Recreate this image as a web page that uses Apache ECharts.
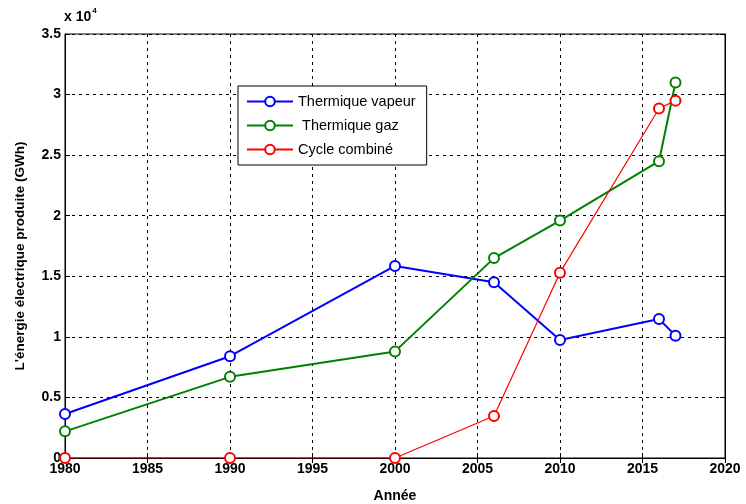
<!DOCTYPE html>
<html>
<head>
<meta charset="utf-8">
<script src="https://cdn.jsdelivr.net/npm/echarts@6/dist/echarts.min.js"></script>
<style>html,body{margin:0;padding:0;background:#fff;}#c{width:746px;height:504px;}</style>
</head>
<body>
<div id="c"></div>
<script>
// Production d'énergie électrique par filière (GWh)
const years = [1980, 1990, 2000, 2006, 2010, 2016, 2017];
const thermiqueVapeur = [3630, 8400, 15850, 14500, 9740, 11470, 10100];
const thermiqueGaz = [2200, 6700, 8800, 16500, 19600, 24500, 31000];
const cycleCombine = [0, 0, 0, 3470, 15300, 28850, 29500];
const seriesNames = ['Thermique vapeur', ' Thermique gaz', 'Cycle combiné'];
const xTicks = [1980, 1985, 1990, 1995, 2000, 2005, 2010, 2015, 2020];
const yTickLabels = ['0', '0.5', '1', '1.5', '2', '2.5', '3', '3.5'];

const font = '"Liberation Sans", Arial, sans-serif';
const pairs = arr => years.map((y, i) => [y, arr[i]]);

const chart = echarts.init(document.getElementById('c'), null, { renderer: 'canvas' });

function lineSeries(name, data, color, width) {
  return {
    name: name,
    type: 'line',
    data: pairs(data),
    symbol: 'emptyCircle',
    symbolSize: 10,
    showAllSymbol: true,
    lineStyle: { color: color, width: width },
    itemStyle: { color: color, borderColor: color, borderWidth: 1.5 },
    emphasis: { disabled: true },
    z: 3
  };
}

chart.setOption({
  animation: false,
  backgroundColor: '#fff',
  grid: {
    left: 65, right: 21, top: 34, bottom: 46,
    outerBoundsMode: 'none', containLabel: false,
    show: true, borderColor: '#000', borderWidth: 1, backgroundColor: 'transparent'
  },
  legend: {
    orient: 'vertical',
    left: 238,
    top: 86,
    itemWidth: 46,
    itemHeight: 12,
    itemGap: 9,
    padding: [8, 11, 8, 8],
    backgroundColor: '#fff',
    borderColor: '#000',
    borderWidth: 1,
    textStyle: { fontFamily: font, fontSize: 14.5, color: '#000' },
    data: seriesNames,
    z: 10
  },
  graphic: [{
    type: 'text',
    left: 64,
    top: 7,
    style: {
      text: '{a|x 10}{b|4}',
      rich: {
        a: { fontFamily: font, fontWeight: 'bold', fontSize: 14, fill: '#000', verticalAlign: 'bottom' },
        b: { fontFamily: font, fontWeight: 'bold', fontSize: 8, fill: '#000', verticalAlign: 'top', padding: [0, 0, 9, 1] }
      }
    }
  }, {
    type: 'text',
    x: 20,
    y: 256,
    rotation: Math.PI / 2,
    style: {
      text: "L'énergie électrique produite (GWh)",
      fontFamily: font, fontWeight: 'bold', fontSize: 13.5, fill: '#000',
      align: 'center', verticalAlign: 'middle'
    }
  }],
  xAxis: [{
    type: 'value',
    min: 1980, max: 2020, interval: 5,
    name: 'Année',
    nameLocation: 'middle',
    nameGap: 31,
    nameTextStyle: { fontFamily: font, fontWeight: 'bold', fontSize: 14, color: '#000' },
    axisLine: { lineStyle: { color: '#000', width: 1 } },
    axisTick: { inside: true, length: 5, lineStyle: { color: '#000' } },
    axisLabel: {
      fontFamily: font, fontWeight: 'bold', fontSize: 14, color: '#000', margin: 4,
      formatter: v => xTicks.includes(v) ? String(v) : ''
    },
    splitLine: { show: true, lineStyle: { color: '#000', type: [3, 4], width: 1 } }
  }, {
    type: 'value', position: 'top',
    min: 1980, max: 2020, interval: 5,
    axisLine: { lineStyle: { color: '#000' } },
    axisTick: { inside: true, length: 5, lineStyle: { color: '#000' } },
    axisLabel: { show: false },
    splitLine: { show: false }
  }],
  yAxis: [{
    type: 'value',
    min: 0, max: 35000, interval: 5000,
    axisLine: { show: true, lineStyle: { color: '#000', width: 1 } },
    axisTick: { show: true, inside: true, length: 5, lineStyle: { color: '#000' } },
    axisLabel: {
      fontFamily: font, fontWeight: 'bold', fontSize: 14, color: '#000', margin: 4,
      formatter: v => yTickLabels[Math.round(v / 5000)]
    },
    splitLine: { show: true, lineStyle: { color: '#000', type: [3, 4], width: 1 } }
  }, {
    type: 'value', position: 'right',
    min: 0, max: 35000, interval: 5000,
    axisLine: { show: true, lineStyle: { color: '#000' } },
    axisTick: { show: true, inside: true, length: 5, lineStyle: { color: '#000' } },
    axisLabel: { show: false },
    splitLine: { show: false }
  }],
  series: [
    lineSeries(seriesNames[0], thermiqueVapeur, '#0000ff', 2),
    lineSeries(seriesNames[1], thermiqueGaz, '#008000', 2),
    lineSeries(seriesNames[2], cycleCombine, '#ff0000', 1.2)
  ]
});
</script>
</body>
</html>
